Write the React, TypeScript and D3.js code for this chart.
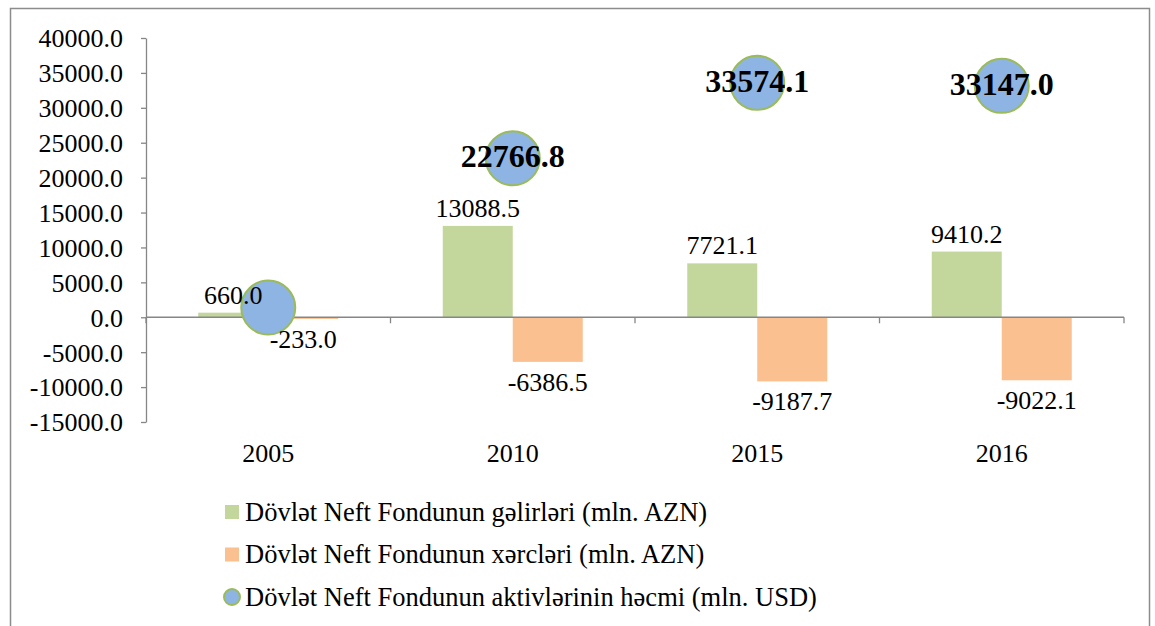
import React, { useRef, useEffect } from 'react';
import * as d3 from 'd3';

// Chart data
const years = ['2005', '2010', '2015', '2016'];
const revenues = [660.0, 13088.5, 7721.1, 9410.2];
const expenses = [-233.0, -6386.5, -9187.7, -9022.1];
const assets = [1394.7, 22766.8, 33574.1, 33147.0];
const assetLabelShown = [false, true, true, true];
const yTickValues = [-15000, -10000, -5000, 0, 5000, 10000, 15000, 20000, 25000, 30000, 35000, 40000];

const legendItems = [
    { label: 'Dövlət Neft Fondunun gəlirləri (mln. AZN)', kind: 'rect', fill: '#C3D69B' },
    { label: 'Dövlət Neft Fondunun xərcləri (mln. AZN)', kind: 'rect', fill: '#FAC090' },
    { label: 'Dövlət Neft Fondunun aktivlərinin həcmi (mln. USD)', kind: 'circle', fill: '#8EB4E3' },
];

const WIDTH = 1155;
const HEIGHT = 626;
const FONT = "'Liberation Serif', Tinos, 'Times New Roman', serif";

// plain hyphen minus, one decimal
const fmt = (v: number) => v.toFixed(1);

export default function App() {
    const svgRef = useRef<SVGSVGElement>(null);

    useEffect(() => {
        if (!svgRef.current) return;
        const svg = d3.select(svgRef.current);
        svg.selectAll('*').remove();

        const plot = { left: 146, right: 1124, top: 38, bottom: 422 };

        const x = d3.scaleBand<string>()
            .domain(years)
            .range([plot.left, plot.right])
            .padding(0);
        const bw = x.bandwidth();
        const x1 = d3.scaleBand<string>()
            .domain(['rev', 'exp'])
            .range([bw / 2 - 70, bw / 2 + 70])
            .padding(0);

        const y = d3.scaleLinear()
            .domain([-15000, 40000])
            .range([plot.bottom, plot.top]);

        // outer frame
        svg.append('rect')
            .attr('x', 10.5).attr('y', 8.5)
            .attr('width', 1139).attr('height', 640)
            .attr('fill', 'none')
            .attr('stroke', '#8c8c8c')
            .attr('stroke-width', 1.5);

        // bars
        const bars = svg.append('g');
        years.forEach((yr, i) => {
            const gx = x(yr)!;
            bars.append('rect')
                .attr('x', gx + x1('rev')!)
                .attr('y', y(Math.max(0, revenues[i])))
                .attr('width', x1.bandwidth())
                .attr('height', Math.abs(y(revenues[i]) - y(0)))
                .attr('fill', '#C3D69B');
            bars.append('rect')
                .attr('x', gx + x1('exp')!)
                .attr('y', y(0))
                .attr('width', x1.bandwidth())
                .attr('height', Math.abs(y(expenses[i]) - y(0)))
                .attr('fill', '#FAC090');
        });

        // y axis
        const yAxis = d3.axisLeft(y)
            .tickValues(yTickValues)
            .tickSize(5)
            .tickSizeOuter(0)
            .tickPadding(18)
            .tickFormat(d => fmt(d as number));
        const yg = svg.append('g')
            .attr('transform', `translate(${plot.left},0)`)
            .call(yAxis);
        yg.attr('font-family', null).attr('font-size', null);
        yg.selectAll('path, line').attr('stroke', '#868686').attr('stroke-width', 1.3);
        yg.selectAll('text')
            .attr('fill', '#000')
            .style('font-family', FONT)
            .style('font-size', '26px')
            .attr('dy', '0.34em');

        // x axis along zero
        const xg = svg.append('g');
        xg.append('line')
            .attr('x1', plot.left).attr('x2', plot.right)
            .attr('y1', y(0)).attr('y2', y(0))
            .attr('stroke', '#868686').attr('stroke-width', 1.5);
        const boundaries = years.map(yr => x(yr)!).concat([plot.right]);
        boundaries.forEach(bx => {
            xg.append('line')
                .attr('x1', bx).attr('x2', bx)
                .attr('y1', y(0)).attr('y2', y(0) + 6)
                .attr('stroke', '#868686').attr('stroke-width', 1.3);
        });
        years.forEach(yr => {
            svg.append('text')
                .attr('x', x(yr)! + bw / 2)
                .attr('y', 462)
                .attr('text-anchor', 'middle')
                .style('font-family', FONT)
                .style('font-size', '26px')
                .attr('fill', '#000')
                .text(yr);
        });

        // bubbles
        const bubbles = svg.append('g');
        years.forEach((yr, i) => {
            bubbles.append('circle')
                .attr('cx', x(yr)! + bw / 2)
                .attr('cy', y(assets[i]))
                .attr('r', 27)
                .attr('fill', '#8EB4E3')
                .attr('stroke', '#9BBB59')
                .attr('stroke-width', 2);
        });

        // bar labels
        const labels = svg.append('g')
            .style('font-family', FONT)
            .style('font-size', '26px')
            .attr('fill', '#000')
            .attr('text-anchor', 'middle');
        years.forEach((yr, i) => {
            labels.append('text')
                .attr('x', x(yr)! + x1('rev')! + x1.bandwidth() / 2)
                .attr('y', y(revenues[i]) - 9)
                .text(fmt(revenues[i]));
            labels.append('text')
                .attr('x', x(yr)! + x1('exp')! + x1.bandwidth() / 2)
                .attr('y', y(expenses[i]) + 29)
                .text(fmt(expenses[i]));
        });

        // bubble labels
        years.forEach((yr, i) => {
            if (!assetLabelShown[i]) return;
            svg.append('text')
                .attr('x', x(yr)! + bw / 2)
                .attr('y', y(assets[i]) + 9)
                .attr('text-anchor', 'middle')
                .style('font-family', FONT)
                .style('font-size', '32px')
                .style('font-weight', 'bold')
                .attr('fill', '#000')
                .text(fmt(assets[i]));
        });

        // legend
        const legend = svg.append('g').attr('transform', 'translate(225,512)');
        legendItems.forEach((item, i) => {
            const g = legend.append('g').attr('transform', `translate(0,${i * 42.5})`);
            if (item.kind === 'rect') {
                g.append('rect')
                    .attr('x', 0).attr('y', -7)
                    .attr('width', 14).attr('height', 14)
                    .attr('fill', item.fill);
            } else {
                g.append('circle')
                    .attr('cx', 7).attr('cy', 0)
                    .attr('r', 8)
                    .attr('fill', item.fill)
                    .attr('stroke', '#9BBB59')
                    .attr('stroke-width', 2);
            }
            g.append('text')
                .attr('x', 20)
                .attr('y', 8.5)
                .style('font-family', FONT)
                .style('font-size', '26.5px')
                .attr('fill', '#000')
                .text(item.label);
        });
    }, []);

    return (
        <svg
            ref={svgRef}
            width={WIDTH}
            height={HEIGHT}
            style={{ position: 'absolute', left: 0, top: 0, background: '#fff' }}
        />
    );
}
